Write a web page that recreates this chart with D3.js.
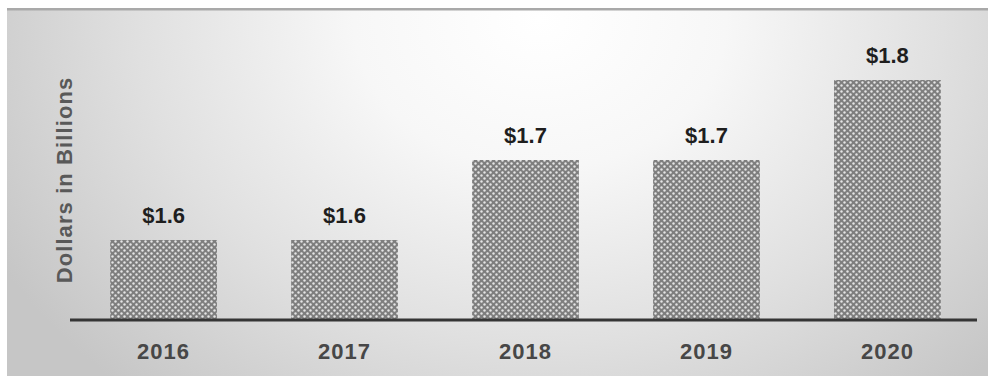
<!DOCTYPE html>
<html>
<head>
<meta charset="utf-8">
<script src="https://cdn.jsdelivr.net/npm/d3@7"></script>
<style>
  html, body { margin: 0; padding: 0; background: #fff; }
  svg { display: block; }
</style>
</head>
<body>
<svg id="chart" width="995" height="376"></svg>
<script>
// Annual amounts, in billions of dollars
const years = ["2016", "2017", "2018", "2019", "2020"];
const amounts = [1.6, 1.6, 1.7, 1.7, 1.8];
const valueLabels = ["$1.6", "$1.6", "$1.7", "$1.7", "$1.8"];
const yAxisTitle = "Dollars in Billions";

const svg = d3.select("#chart");
const W = 995, H = 376;
const font = "'Liberation Sans', Arial, sans-serif";

const defs = svg.append("defs");

// Soft spotlight background, brightest at the top centre
const bg = defs.append("radialGradient")
  .attr("id", "panelGlow")
  .attr("gradientUnits", "userSpaceOnUse")
  .attr("cx", 540).attr("cy", 20).attr("r", 620)
  .attr("gradientTransform", "translate(540,20) scale(1,0.8) translate(-540,-20)");
bg.append("stop").attr("offset", "0%").attr("stop-color", "#ffffff");
bg.append("stop").attr("offset", "30%").attr("stop-color", "#f7f7f7");
bg.append("stop").attr("offset", "65%").attr("stop-color", "#e0e0e0");
bg.append("stop").attr("offset", "100%").attr("stop-color", "#c6c6c6");

// Dotted fill used for the bars
const pat = defs.append("pattern")
  .attr("id", "dots")
  .attr("patternUnits", "userSpaceOnUse")
  .attr("width", 6).attr("height", 6);
pat.append("rect").attr("width", 6).attr("height", 6).attr("fill", "#7e7e7e");
pat.append("circle").attr("cx", 1.5).attr("cy", 1.5).attr("r", 1.2).attr("fill", "#e4e4e4");
pat.append("circle").attr("cx", 4.5).attr("cy", 4.5).attr("r", 1.2).attr("fill", "#e4e4e4");

// Panel
svg.append("rect")
  .attr("x", 7).attr("y", 8).attr("width", 981).attr("height", H - 8)
  .attr("fill", "url(#panelGlow)");
svg.append("rect")
  .attr("x", 7).attr("y", 8).attr("width", 981).attr("height", 2.5)
  .attr("fill", "#a9a9a9");

// Scales
const x = d3.scaleBand()
  .domain(years)
  .range([74, 977])
  .paddingInner(0.41)
  .paddingOuter(0.2);

const y = d3.scaleLinear()
  .domain([1.5, 1.8])
  .range([320, 80]);

const data = years.map((yr, i) => ({ year: yr, value: amounts[i], label: valueLabels[i] }));

// Bars
svg.append("g").selectAll("rect")
  .data(data)
  .join("rect")
  .attr("x", d => x(d.year))
  .attr("y", d => y(d.value))
  .attr("width", x.bandwidth())
  .attr("height", d => y(1.5) - y(d.value))
  .attr("fill", "url(#dots)");

// Value labels
svg.append("g").selectAll("text")
  .data(data)
  .join("text")
  .attr("x", d => x(d.year) + x.bandwidth() / 2)
  .attr("y", d => y(d.value) - 17)
  .attr("text-anchor", "middle")
  .attr("font-family", font)
  .attr("font-weight", "bold")
  .attr("font-size", 22)
  .attr("fill", "#1e1e1e")
  .text(d => d.label);

// Category axis
const xAxis = svg.append("g")
  .attr("transform", `translate(0,${y(1.5)})`)
  .call(d3.axisBottom(x).tickSize(0).tickPadding(23));
xAxis.select(".domain")
  .attr("d", "M70,0H977")
  .attr("stroke", "#353535")
  .attr("stroke-width", 3);
xAxis.selectAll("text")
  .attr("font-family", font)
  .attr("font-weight", "bold")
  .attr("font-size", 22)
  .attr("letter-spacing", 1)
  .attr("fill", "#474747")
  .attr("dy", "0.71em");

// Axis title
svg.append("text")
  .attr("transform", "translate(72,180) rotate(-90)")
  .attr("text-anchor", "middle")
  .attr("font-family", font)
  .attr("font-weight", "bold")
  .attr("font-size", 22)
  .attr("letter-spacing", 1.1)
  .attr("fill", "#595959")
  .text(yAxisTitle);
</script>
</body>
</html>
